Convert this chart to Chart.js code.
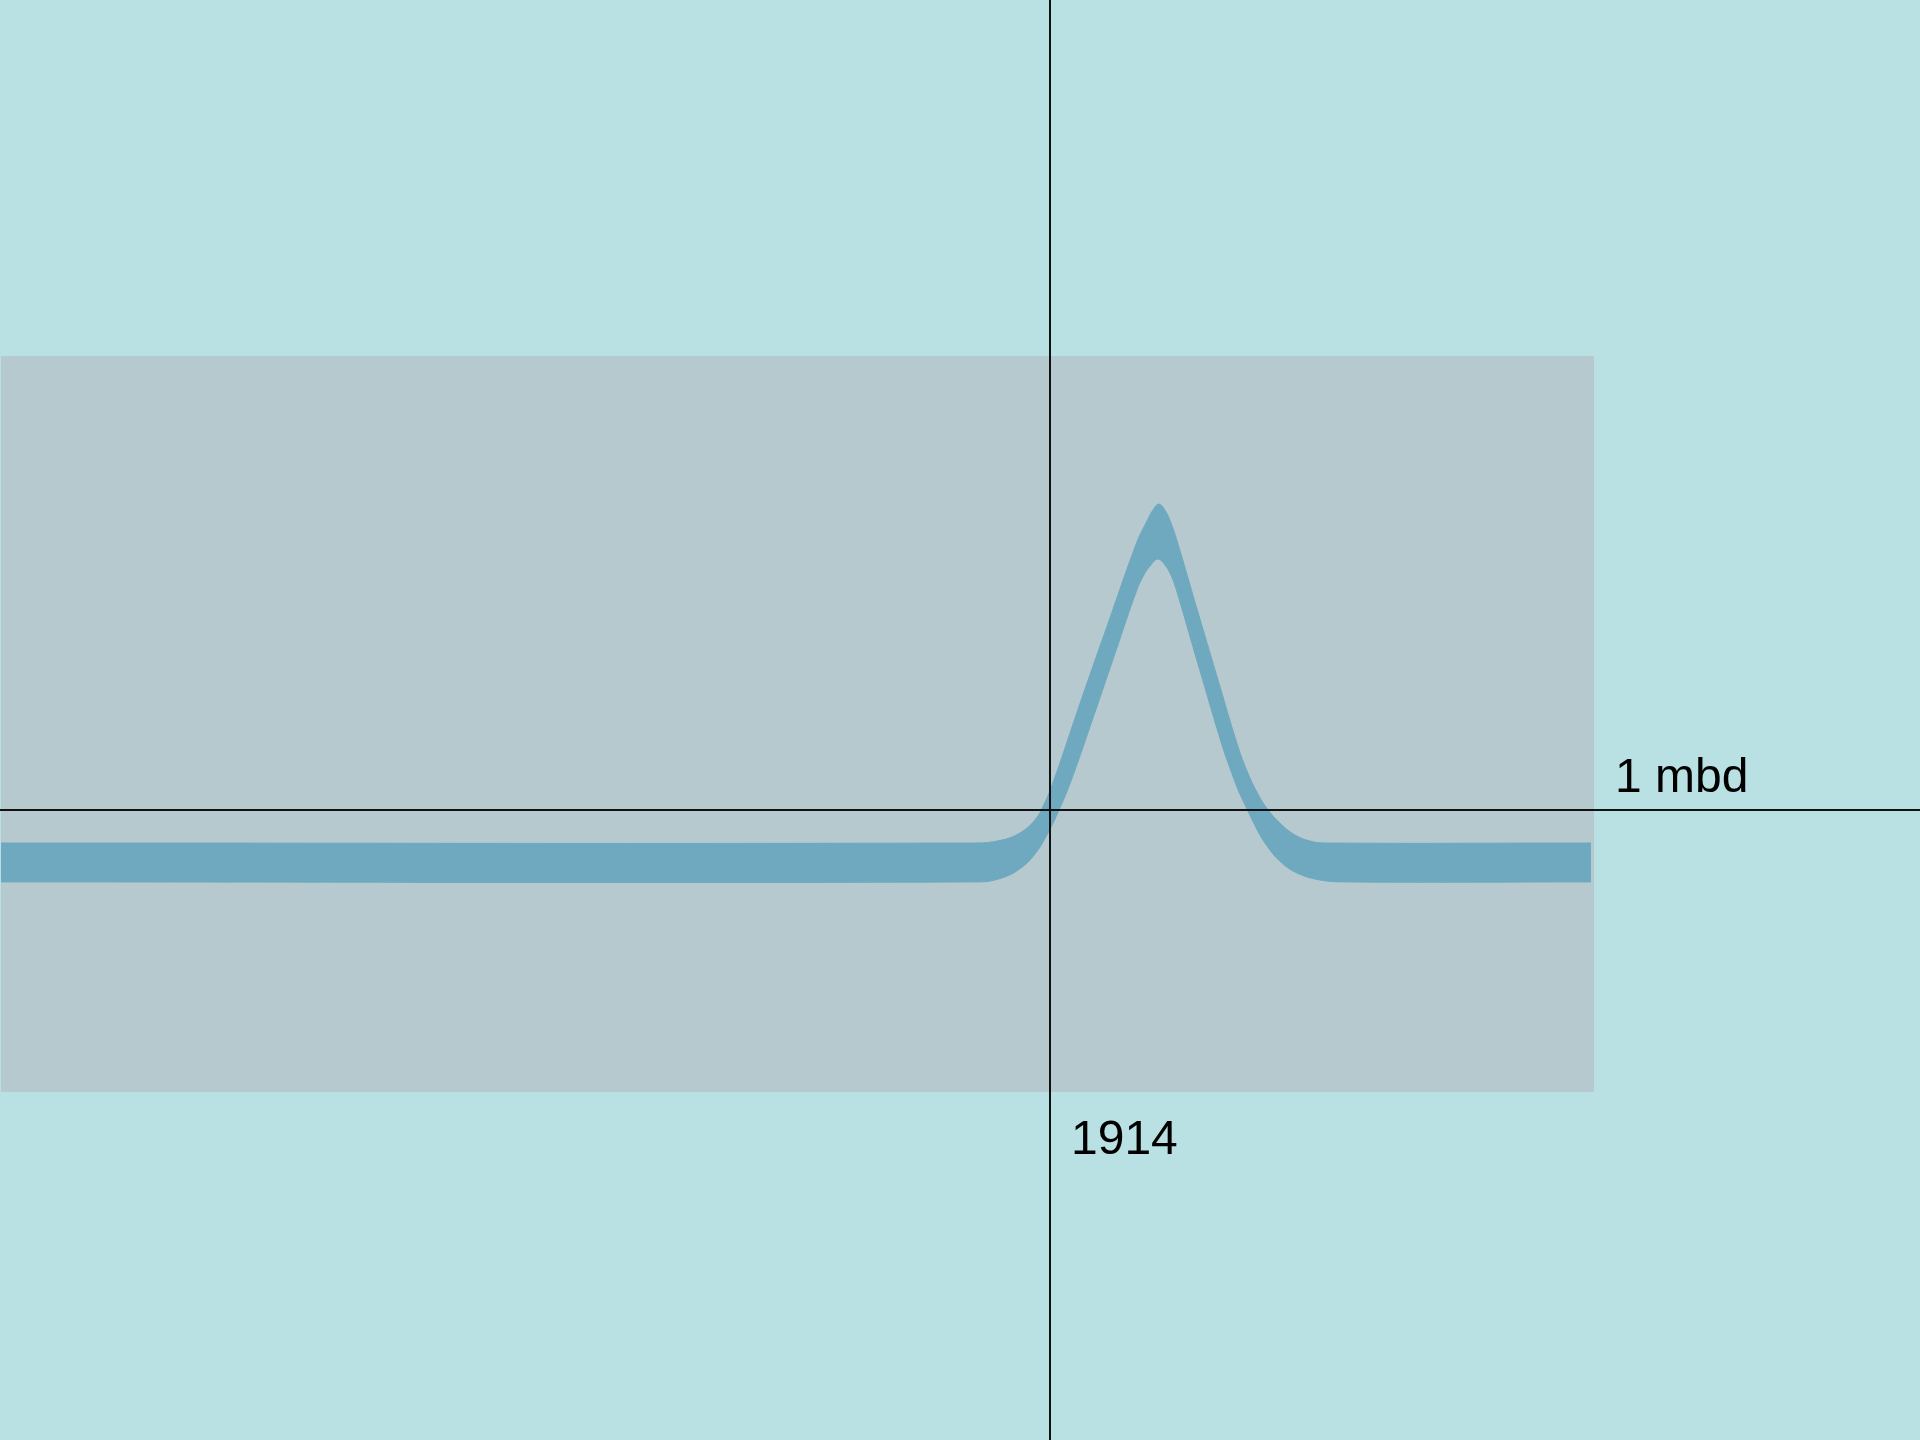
<!DOCTYPE html>
<html>
<head>
<meta charset="utf-8">
<style>
  html, body { margin: 0; padding: 0; background: #b9e0e3; }
  canvas { display: block; }
</style>
<script src="https://cdn.jsdelivr.net/npm/chart.js@4/dist/chart.umd.min.js"></script>
</head>
<body>
<canvas id="c" width="1920" height="1440"></canvas>
<script>
// ---- data (years, million barrels per day) ----
// upper edge of the band
const upperYears  = [1890.00, 1912.28, 1912.86, 1913.31, 1913.66, 1913.86, 1914.07, 1914.71, 1915.35, 1915.99, 1916.20, 1916.36, 1916.49, 1916.63, 1916.77, 1916.91, 1917.36, 1917.84, 1918.30, 1918.53, 1918.76, 1918.96, 1919.26, 1919.61, 1919.95, 1920.29, 1926.38];
const upperValues = [0.883, 0.883, 0.892, 0.918, 0.965, 1.018, 1.096, 1.387, 1.670, 1.950, 2.018, 2.064, 2.085, 2.064, 2.018, 1.954, 1.716, 1.465, 1.227, 1.131, 1.057, 1.007, 0.954, 0.911, 0.890, 0.883, 0.883];

// lower edge of the band
const lowerYears  = [1890.00, 1912.35, 1912.86, 1913.31, 1913.66, 1913.93, 1914.21, 1914.50, 1915.01, 1915.51, 1915.99, 1916.15, 1916.29, 1916.47, 1916.65, 1916.79, 1916.93, 1917.43, 1917.94, 1918.12, 1918.30, 1918.51, 1918.71, 1918.92, 1919.26, 1919.65, 1920.18, 1920.75, 1926.38];
const lowerValues = [0.745, 0.745, 0.757, 0.791, 0.844, 0.911, 1.000, 1.110, 1.337, 1.564, 1.780, 1.833, 1.865, 1.890, 1.865, 1.826, 1.762, 1.496, 1.230, 1.149, 1.074, 1.004, 0.940, 0.883, 0.819, 0.777, 0.752, 0.745, 0.745];

const markerYear  = 1914;
const markerLevel = 1;
const markerYearLabel  = "1914";
const markerLevelLabel = "1 mbd";

const xMin = 1890, xMax = 1926.45;
const yMin = 0,    yMax = 2.61;

// ---- styles ----
const BG = "#b9e0e3";
const PLOT_BG = "#b5c9cf";
const BAND = "#6fa9bf";

const toPts = (xs, ys) => xs.map((x, i) => ({ x: x, y: ys[i] }));

const decor = {
  id: "decor",
  beforeDraw(chart) {
    const { ctx, chartArea: a } = chart;
    ctx.save();
    ctx.fillStyle = BG;
    ctx.fillRect(0, 0, chart.width, chart.height);
    ctx.fillStyle = PLOT_BG;
    ctx.fillRect(a.left, a.top, a.right - a.left, a.bottom - a.top);
    ctx.restore();
  },
  afterDatasetsDraw(chart) {
    const { ctx, chartArea: a, scales } = chart;
    const vx = Math.round(scales.x.getPixelForValue(markerYear));
    const hy = Math.round(scales.y.getPixelForValue(markerLevel));
    ctx.save();
    ctx.strokeStyle = "#111111";
    ctx.lineWidth = 2;
    ctx.beginPath();
    ctx.moveTo(vx, 0); ctx.lineTo(vx, chart.height);
    ctx.moveTo(0, hy); ctx.lineTo(chart.width, hy);
    ctx.stroke();
    ctx.fillStyle = "#000000";
    ctx.font = '48px "Liberation Sans", Arial, sans-serif';
    ctx.textBaseline = "alphabetic";
    ctx.textAlign = "left";
    ctx.fillText(markerLevelLabel, a.right + 21, hy - 18);
    ctx.fillText(markerYearLabel, vx + 21, a.bottom + 62);
    ctx.restore();
  }
};

new Chart(document.getElementById("c"), {
  type: "line",
  data: {
    datasets: [
      {
        data: toPts(lowerYears, lowerValues),
        borderColor: BAND,
        borderWidth: 1,
        pointRadius: 0,
        tension: 0.4,
        fill: false
      },
      {
        data: toPts(upperYears, upperValues),
        borderColor: BAND,
        borderWidth: 1,
        backgroundColor: BAND,
        pointRadius: 0,
        tension: 0.4,
        fill: "-1"
      }
    ]
  },
  options: {
    responsive: false,
    animation: false,
    devicePixelRatio: 1,
    layout: { padding: { left: 1, top: 356, right: 326, bottom: 348 } },
    plugins: { legend: { display: false }, tooltip: { enabled: false }, title: { display: false } },
    scales: {
      x: { type: "linear", min: xMin, max: xMax, display: false },
      y: { type: "linear", min: yMin, max: yMax, display: false }
    }
  },
  plugins: [decor]
});
</script>
</body>
</html>
